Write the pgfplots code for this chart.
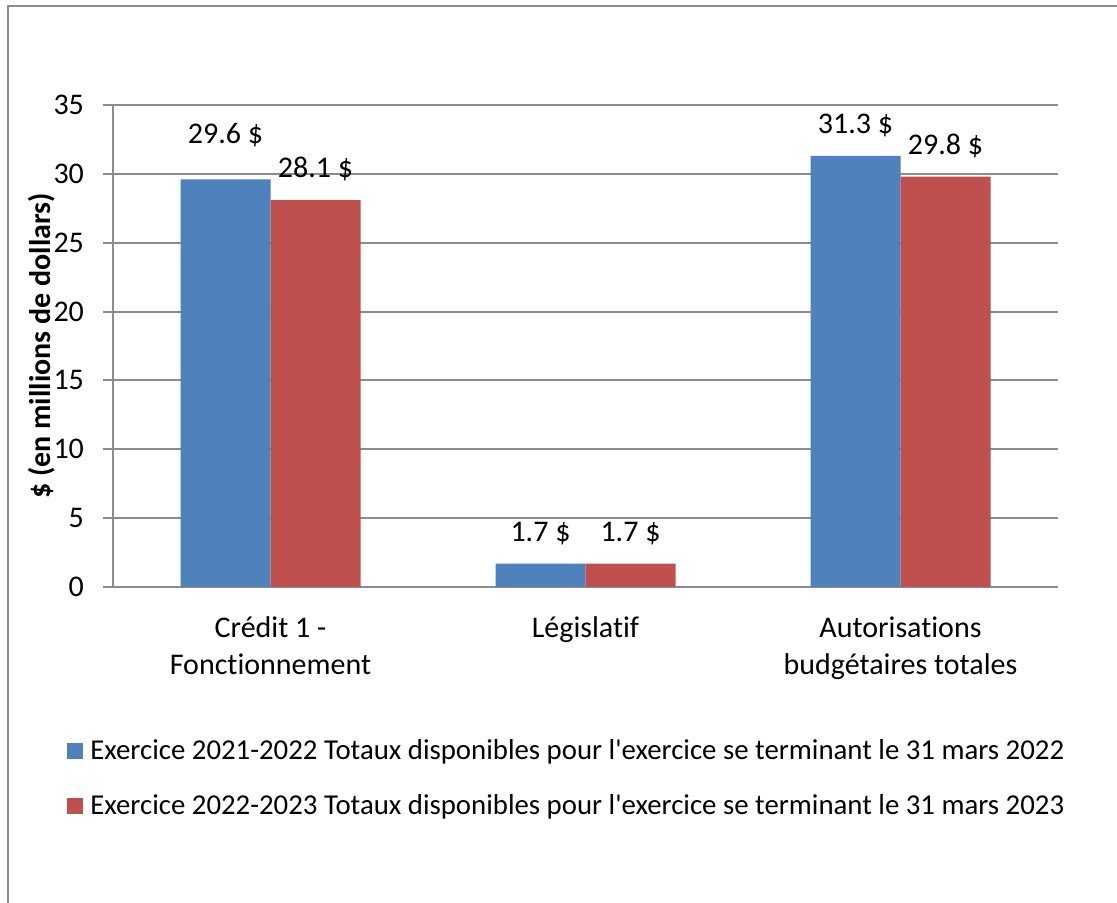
\documentclass[border=0pt]{standalone}
\usepackage{fontspec}
\setmainfont{Carlito}[Ligatures={NoCommon}]
\usepackage{pgfplots}
\pgfplotsset{compat=1.18}
\usepackage{pgfplotstable}
\definecolor{sblue}{HTML}{4F81BD}
\definecolor{sred}{HTML}{C0504D}
\definecolor{gridgray}{HTML}{8C8C8C}
\pgfplotstableread{
x y off
0 29.6 6.5
1 1.7 0
2 31.3 0
}\tblA
\pgfplotstableread{
x y off
0 28.1 0
1 1.7 0
2 29.8 0
}\tblB
\begin{document}
\begin{tikzpicture}[x=1pt,y=1pt]
\useasboundingbox (0,0) rectangle (558.5,451.5);
\fill[white] (0,0) rectangle (558.5,451.5);
\draw[gridgray, line width=1pt] (4,0) -- (4,448.5) -- (558.5,448.5);
\begin{axis}[
  at={(56.5pt,158pt)}, anchor=south west,
  scale only axis, width=472.5pt, height=241pt,
  xmin=-0.5, xmax=2.5, ymin=0, ymax=35,
  ybar=0pt, bar width=45pt,
  axis x line*=bottom, axis y line*=left,
  axis line style={gridgray, line width=1pt},
  ytick={0,5,...,35},
  ymajorgrids, grid style={gridgray, line width=1pt},
  tick align=outside, major tick length=5pt,
  tick style={gridgray, line width=1pt},
  xtick={0,1,2}, x tick style={draw=none},
  minor xtick={-0.5,0.5,1.5,2.5},
  minor tick length=5pt, minor x tick style={gridgray, line width=1pt},
  xticklabels={{Crédit 1 -\\Fonctionnement},{Législatif},{Autorisations\\budgétaires totales}},
  xticklabel style={align=center, font=\fontsize{15}{18.5}\selectfont, yshift=-6.5pt},
  yticklabel style={font=\fontsize{15}{17}\selectfont, xshift=-6pt},
  /pgf/number format/assume math mode=true,
  ylabel={\textbf{\$ (en millions de dollars)}},
  ylabel style={at={(axis description cs:-0.0751,0.5)}, anchor=center, font=\fontsize{15}{17}\selectfont},
  nodes near coords={\pgfmathprintnumber[fixed,precision=1,fixed zerofill]{\pgfplotspointmeta} \$},
  nodes near coords style={font=\fontsize{15}{17}\selectfont, text=black, yshift=\myoff pt+6pt},
  visualization depends on={\thisrow{off} \as \myoff},
  legend style={at={(axis description cs:-0.0487,-0.3973)}, anchor=west, draw=none, fill=none,
    inner sep=0pt, row sep=12pt, font=\fontsize{14.4}{17}\selectfont,
    nodes={inner xsep=3.5pt}},
  legend cell align=left,
  legend image code/.code={\fill[#1] (0pt,-4.2pt) rectangle (8pt,4.2pt);},
  clip=false,
]
\addplot[fill=sblue, draw=none] table[x=x,y=y] {\tblA};
\addplot[fill=sred, draw=none] table[x=x,y=y] {\tblB};
\legend{Exercice 2021-2022 Totaux disponibles pour l\textquotesingle exercice se terminant le 31 mars 2022,
        Exercice 2022-2023 Totaux disponibles pour l\textquotesingle exercice se terminant le 31 mars 2023}
\end{axis}
\end{tikzpicture}
\end{document}
